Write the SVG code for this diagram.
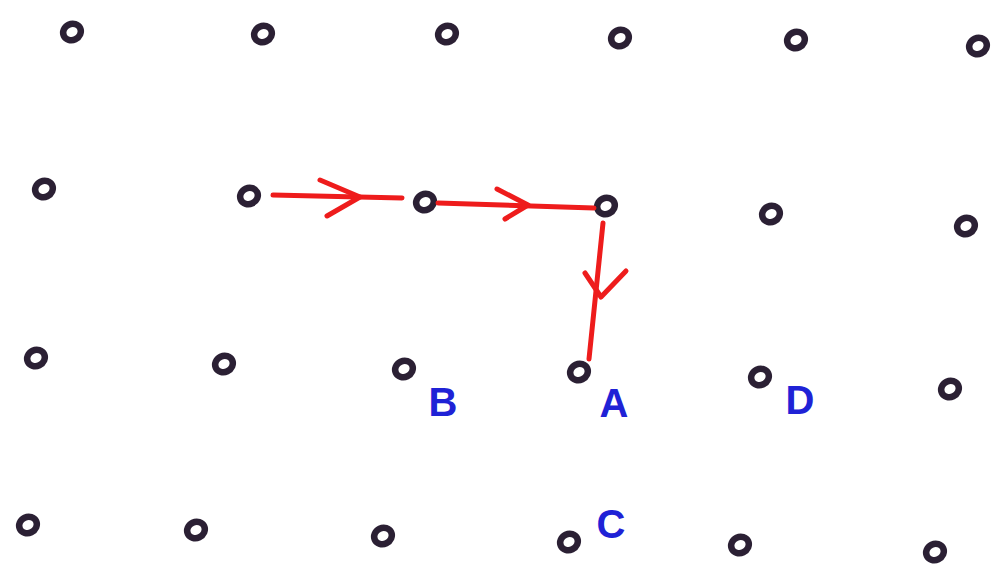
<svg xmlns="http://www.w3.org/2000/svg" width="995" height="569" viewBox="0 0 995 569">
<style>
.dot{fill:none;stroke:#2b2034;stroke-width:6.5}
.lbl{font-family:"Liberation Sans",Arial,sans-serif;font-size:40px;font-weight:bold;fill:#1f22d6;text-anchor:middle}
.edge{fill:none;stroke:#ee1c1c;stroke-width:5;stroke-linecap:round;stroke-linejoin:round}
</style>
<defs>
<ellipse id="d" cx="0" cy="0" rx="9" ry="8" transform="rotate(-25)"/>
</defs>
<rect width="995" height="569" fill="#ffffff"/>
<g id="nodes">
<g id="r1c1"><use href="#d" class="dot" x="72" y="32"/></g>
<g id="r1c2"><use href="#d" class="dot" x="263" y="34"/></g>
<g id="r1c3"><use href="#d" class="dot" x="447" y="34"/></g>
<g id="r1c4"><use href="#d" class="dot" x="620" y="38"/></g>
<g id="r1c5"><use href="#d" class="dot" x="796" y="40"/></g>
<g id="r1c6"><use href="#d" class="dot" x="978" y="46"/></g>
<g id="r2c1"><use href="#d" class="dot" x="44" y="189"/></g>
<g id="r2c2"><use href="#d" class="dot" x="249" y="196"/></g>
<g id="r2c3"><use href="#d" class="dot" x="425" y="202"/></g>
<g id="r2c4"><use href="#d" class="dot" x="606" y="206"/></g>
<g id="r2c5"><use href="#d" class="dot" x="771" y="214"/></g>
<g id="r2c6"><use href="#d" class="dot" x="966" y="226"/></g>
<g id="r3c1"><use href="#d" class="dot" x="36" y="358"/></g>
<g id="r3c2"><use href="#d" class="dot" x="224" y="364"/></g>
<g id="r3c3"><use href="#d" class="dot" x="404" y="369"/></g>
<g id="r3c4"><use href="#d" class="dot" x="579" y="372"/></g>
<g id="r3c5"><use href="#d" class="dot" x="760" y="377"/></g>
<g id="r3c6"><use href="#d" class="dot" x="950" y="389"/></g>
<g id="r4c1"><use href="#d" class="dot" x="28" y="525"/></g>
<g id="r4c2"><use href="#d" class="dot" x="196" y="530"/></g>
<g id="r4c3"><use href="#d" class="dot" x="383" y="536"/></g>
<g id="r4c4"><use href="#d" class="dot" x="569" y="542"/></g>
<g id="r4c5"><use href="#d" class="dot" x="740" y="545"/></g>
<g id="r4c6"><use href="#d" class="dot" x="935" y="552"/></g>
</g>
<g id="labels">
<text class="lbl" x="443" y="416">B</text>
<text class="lbl" x="614" y="417">A</text>
<text class="lbl" x="800" y="414">D</text>
<text class="lbl" x="611" y="538">C</text>
</g>
<g id="connectors">
<path class="edge" d="M273 195 L402 198"/>
<path class="edge" d="M320 180 L360 197 L327 216"/>
<path class="edge" d="M438 203 L594 208"/>
<path class="edge" d="M497 189 L528 205 L505 219"/>
<path class="edge" d="M603 223 L589 359"/>
<path class="edge" d="M585 273 L601 297 L626 271"/>
</g>
</svg>
